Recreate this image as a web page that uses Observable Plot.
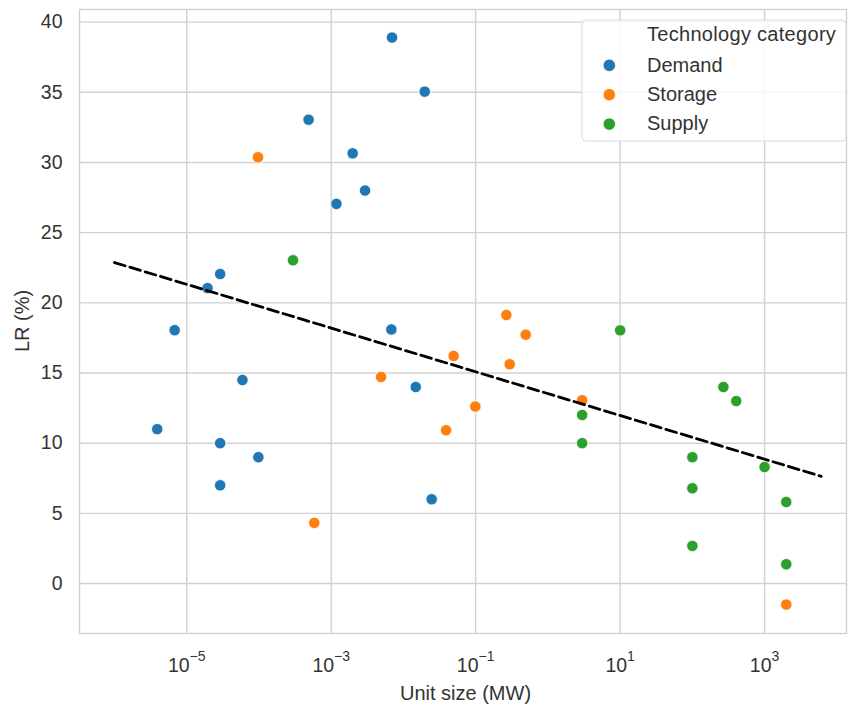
<!DOCTYPE html>
<html><head><meta charset="utf-8">
<script src="https://cdn.jsdelivr.net/npm/d3@7"></script>
<script src="https://cdn.jsdelivr.net/npm/@observablehq/plot@0.6"></script>
<style>body{margin:0;background:#fff} #chart{width:848px;height:704px}</style>
</head><body><div id="chart"></div>
<script>
const categories = ["Demand", "Storage", "Supply"];
const colors = ["#1f77b4", "#ff7f0e", "#2ca02c"];
const legendTitle = "Technology category";
const xLabel = "Unit size (MW)";
const yLabel = "LR (%)";

const demandX = [0.00695, 0.0197, 0.000486, 0.00198, 0.00294, 0.00118, 2.9e-5, 1.94e-5, 6.8e-6, 5.9e-5, 3.9e-6, 2.9e-5, 9.8e-5, 2.9e-5, 0.0246, 0.0068, 0.0148];
const demandY = [38.9, 35.05, 33.05, 30.65, 28.0, 27.05, 22.05, 21.05, 18.05, 14.5, 11.0, 10.0, 9.0, 7.0, 6.0, 18.1, 14.0];
const storageX = [9.7e-5, 0.000583, 0.0049, 0.0495, 0.0389, 0.099, 0.266, 0.493, 0.296, 2.98, 1995];
const storageY = [30.37, 4.32, 14.72, 16.21, 10.92, 12.61, 19.13, 17.73, 15.62, 13.06, -1.5];
const supplyX = [0.000296, 10, 2.98, 2.98, 269, 405, 100, 100, 100, 1000, 1995, 1995];
const supplyY = [23.03, 18.04, 12.01, 10.0, 14.0, 13.0, 9.0, 6.79, 2.68, 8.3, 5.81, 1.37];

const trendX = [1e-6, 6080];
const trendY = [22.87, 7.64];

const xTicks = [1e-5, 1e-3, 1e-1, 1e1, 1e3];
const yTicks = [0, 5, 10, 15, 20, 25, 30, 35, 40];

const points = [];
[[demandX, demandY], [storageX, storageY], [supplyX, supplyY]].forEach(([xs, ys], i) =>
  xs.forEach((x, j) => points.push({x, y: ys[j], cat: categories[i]})));
const trend = trendX.map((x, i) => ({x, y: trendY[i]}));

const W = 848, H = 704, mL = 79, mR = 2, mT = 9, mB = 71;
const font = "'Liberation Sans', Arial, sans-serif";

const svg = Plot.plot({
  width: W, height: H,
  marginLeft: mL, marginRight: mR, marginTop: mT, marginBottom: mB,
  style: {fontFamily: font, fontSize: "19px", color: "#333", background: "#fff"},
  x: {type: "log", domain: [10 ** -6.485, 10 ** 4.134]},
  y: {domain: [-3.56, 40.9]},
  color: {domain: categories, range: colors},
  marks: [
    Plot.gridX(xTicks, {stroke: "#d2d2d2", strokeOpacity: 1, strokeWidth: 1.4}),
    Plot.gridY(yTicks, {stroke: "#d2d2d2", strokeOpacity: 1, strokeWidth: 1.4}),
    Plot.frame({stroke: "#d0d0d0", strokeWidth: 1.4}),
    Plot.axisX(xTicks, {tickSize: 0, tickPadding: 25, label: null, fontSize: 19.5,
      tickFormat: d => "10^" + Math.round(Math.log10(d))}),
    Plot.axisY(yTicks, {tickSize: 0, tickPadding: 17, label: null, fontSize: 19.5}),
    Plot.dot(points, {x: "x", y: "y", fill: "cat", r: 5.7, stroke: "white", strokeWidth: 0.8}),
    Plot.line(trend, {x: "x", y: "y", stroke: "black", strokeWidth: 2.8, strokeDasharray: "11,5"})
  ]
});
document.getElementById("chart").appendChild(svg);

// superscript exponents on x tick labels
svg.querySelectorAll('g[aria-label="x-axis tick label"] text').forEach(t => {
  const s = t.textContent;
  const exp = s.split("^")[1].replace("-", "\u2212");
  t.textContent = "";
  const base = document.createElementNS("http://www.w3.org/2000/svg", "tspan");
  base.textContent = "10";
  const sup = document.createElementNS("http://www.w3.org/2000/svg", "tspan");
  sup.textContent = exp;
  sup.setAttribute("dy", "-11");
  sup.setAttribute("font-size", "14");
  t.appendChild(base); t.appendChild(sup);
});

const s = d3.select(svg);
// axis titles
s.append("text").attr("x", (mL + W - mR) / 2 + 3).attr("y", 700)
  .attr("text-anchor", "middle").attr("font-family", font).attr("font-size", 20)
  .attr("fill", "#333").text(xLabel);
s.append("text").attr("transform", `translate(29,${(mT + H - mB) / 2})rotate(-90)`)
  .attr("text-anchor", "middle").attr("font-family", font).attr("font-size", 20)
  .attr("fill", "#333").text(yLabel);

// legend
const lg = s.append("g").attr("text-anchor", "start");
lg.append("rect").attr("x", 582).attr("y", 20).attr("width", 264).attr("height", 121)
  .attr("rx", 4).attr("fill", "white").attr("fill-opacity", 0.82).attr("stroke", "#dadada");
lg.append("text").attr("x", 647).attr("y", 41).attr("text-anchor", "start").attr("font-family", font)
  .attr("font-size", 20).attr("letter-spacing", 0.3).attr("fill", "#333").text(legendTitle);
categories.forEach((c, i) => {
  const cy = 65.3 + i * 29.4;
  lg.append("circle").attr("cx", 609.3).attr("cy", cy).attr("r", 6.2).attr("fill", colors[i])
    .attr("stroke", "white").attr("stroke-width", 0.8);
  lg.append("text").attr("x", 647).attr("y", cy + 6.3).attr("text-anchor", "start").attr("font-family", font)
    .attr("font-size", 20).attr("fill", "#333").text(c);
});
</script>
</body></html>
